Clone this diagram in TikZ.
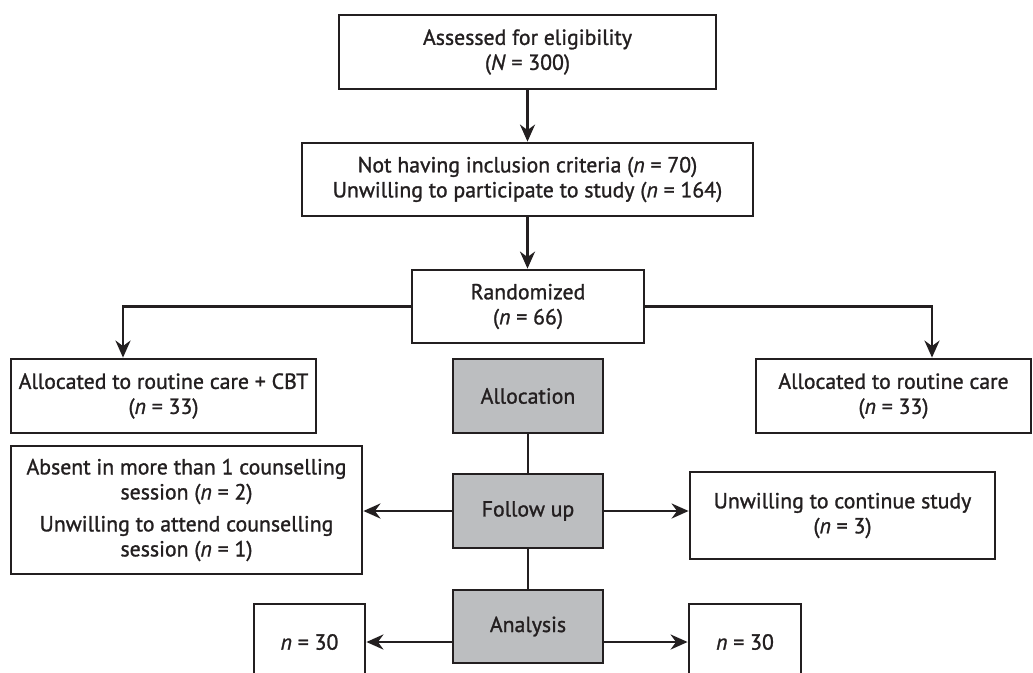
\documentclass[tikz,border=0pt]{standalone}
\usepackage{fontspec}
\setmainfont{PT Sans}[FakeBold=1.2]
\usetikzlibrary{arrows.meta}
\definecolor{ink}{HTML}{231F20}
\definecolor{boxgray}{HTML}{BCBEC0}
\begin{document}
\begin{tikzpicture}[x=1pt,y=-1pt,
  every node/.style={font=\fontsize{21.8}{25}\selectfont, text=ink},
  box/.style={draw=ink, line width=2.8pt, fill=white, align=center, inner sep=0pt},
  graybox/.style={box, fill=boxgray},
  arr/.style={draw=ink, line width=2.6pt, -{Stealth[length=17pt,width=15pt,inset=5.5pt]}},
  link/.style={draw=ink, line width=2.6pt}
]
\clip (0,0) rectangle (1033,672);
\fill[white] (0,0) rectangle (1033,672);

\node[box, minimum width=377pt, minimum height=74pt] (A) at (527.5,52) {Assessed for eligibility\\(\textit{N} = 300)};
\node[box, minimum width=451pt, minimum height=73pt] (B) at (527.5,179.5) {Not having inclusion criteria (\textit{n} = 70)\\Unwilling to participate to study (\textit{n} = 164)};
\node[box, minimum width=232pt, minimum height=73pt] (R) at (528,306.5) {Randomized\\(\textit{n} = 66)};
\node[box, minimum width=305pt, minimum height=74pt] (L1) at (163.5,396) {Allocated to routine care + CBT\\(\textit{n} = 33)};
\node[box, minimum width=275pt, minimum height=74pt] (R1) at (893.5,396) {Allocated to routine care\\(\textit{n} = 33)};
\node[graybox, minimum width=150pt, minimum height=74pt] (Alloc) at (528,396) {Allocation};
\node[box, minimum width=351pt, minimum height=128pt] (Abs) at (186.5,510) {Absent in more than 1 counselling\\session (\textit{n} = 2)\\[7pt]Unwilling to attend counselling\\session (\textit{n} = 1)};
\node[graybox, minimum width=150pt, minimum height=74pt] (Fol) at (528,511) {Follow up};
\node[box, minimum width=305pt, minimum height=87pt] (Unw) at (842.5,515.5) {Unwilling to continue study\\(\textit{n} = 3)};
\node[graybox, minimum width=150pt, minimum height=73pt] (Ana) at (528,626.5) {Analysis};
\node[box, minimum width=111pt, minimum height=76pt] (NL) at (309.5,642) {\textit{n} = 30};
\node[box, minimum width=112pt, minimum height=76pt] (NR) at (745,642) {\textit{n} = 30};

\draw[arr] (A.south) -- (A.south |- B.north);
\draw[arr] (B.south) -- (B.south |- R.north);
\coordinate (L1top) at ([xshift=-40.5pt]L1.north);
\coordinate (R1top) at ([xshift=38.5pt]R1.north);
\draw[arr] (R.west) -| (L1top);
\draw[arr] (R.east) -| (R1top);
\draw[link] (Alloc.south) -- (Fol.north);
\draw[link] (Fol.south) -- (Ana.north);
\draw[arr] (Fol.west) -- (Fol.west -| Abs.east);
\draw[arr] (Fol.east) -- (Fol.east -| Unw.west);
\draw[arr] (Ana.west |- NL.east) -- (NL.east);
\draw[arr] (Ana.east |- NR.west) -- (NR.west);
\end{tikzpicture}
\end{document}
